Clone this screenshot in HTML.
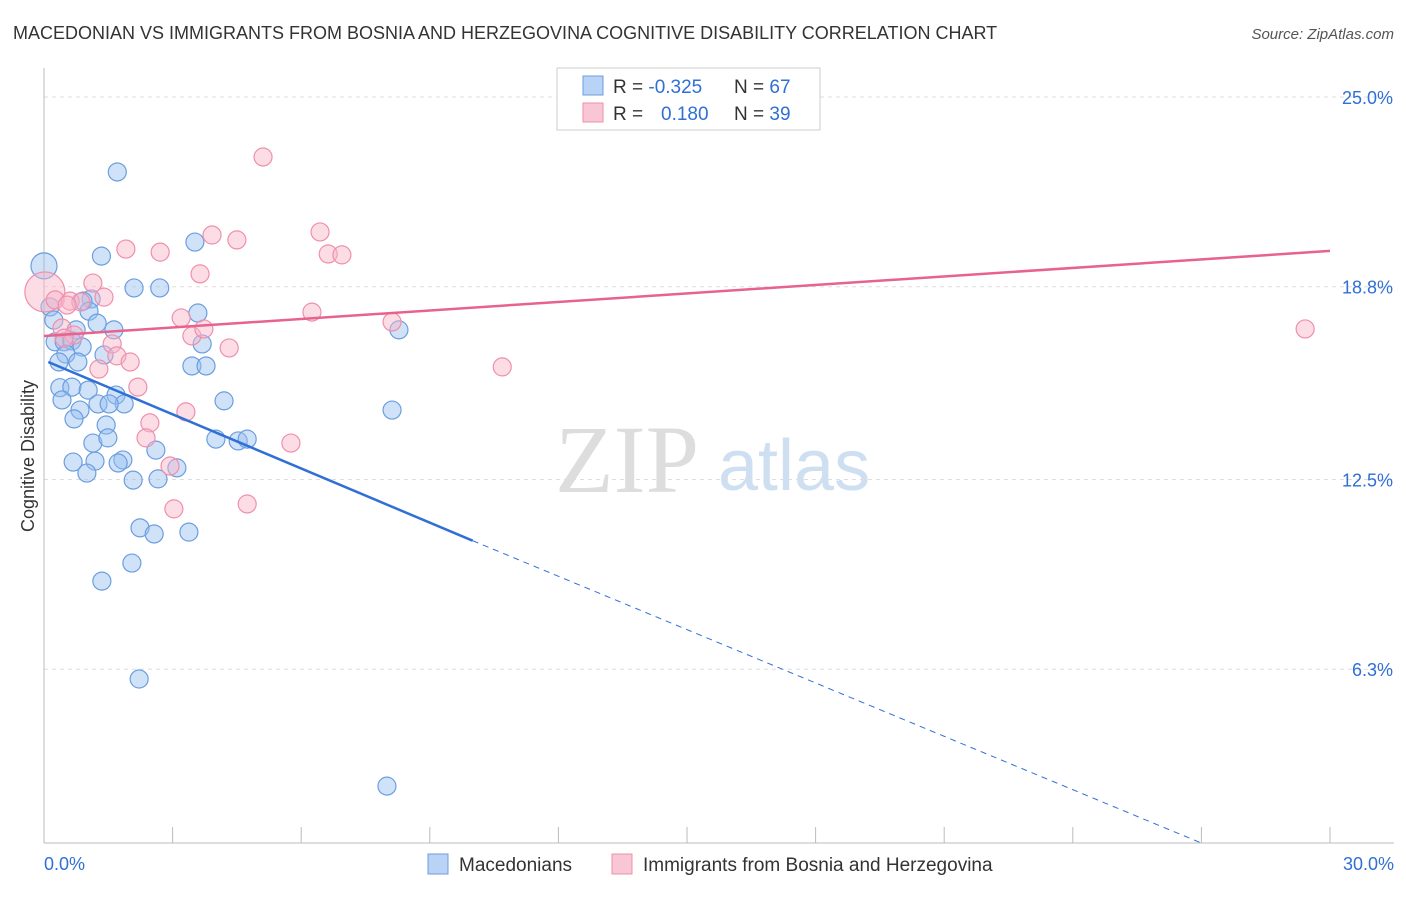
<!DOCTYPE html>
<html><head><meta charset="utf-8"><style>
body{margin:0;background:#fff;font-family:"Liberation Sans",sans-serif}
</style></head><body>
<svg id="c" width="1406" height="892" xmlns="http://www.w3.org/2000/svg">
<text x="13" y="39" font-size="18" fill="#333">MACEDONIAN VS IMMIGRANTS FROM BOSNIA AND HERZEGOVINA COGNITIVE DISABILITY CORRELATION CHART</text>
<text x="1394" y="39" font-size="15" fill="#555" font-style="italic" text-anchor="end">Source: ZipAtlas.com</text>
<text x="34" y="456" font-size="18" fill="#333" text-anchor="middle" transform="rotate(-90 34 456)">Cognitive Disability</text>
<text x="555" y="492" font-size="96" fill="#ddd" font-family="Liberation Serif,serif">ZIP</text>
<text x="718" y="490" font-size="72" fill="#cfdff2">atlas</text>
<g id="grid"></g><g id="axes"></g><g id="pts"></g><g id="lines"></g>
<g>
<rect x="557" y="68" width="263" height="62" fill="#fff" stroke="#ccc"/>
<rect x="583" y="76" width="20" height="19" fill="#b8d3f5" stroke="#6b9ee0"/>
<rect x="583" y="103" width="20" height="19" fill="#f9c6d5" stroke="#ef8fab"/>
<text x="613" y="93" font-size="19" fill="#333">R = <tspan fill="#2f6fd6">-0.325</tspan></text>
<text x="734" y="93" font-size="19" fill="#333">N = <tspan fill="#2f6fd6">67</tspan></text>
<text x="613" y="120" font-size="19" fill="#333">R = <tspan fill="#2f6fd6" x="661">0.180</tspan></text>
<text x="734" y="120" font-size="19" fill="#333">N = <tspan fill="#2f6fd6">39</tspan></text>
</g>
<g>
<rect x="428" y="854" width="20" height="20" fill="#b8d3f5" stroke="#6b9ee0"/>
<text x="459" y="871" font-size="19" fill="#333">Macedonians</text>
<rect x="612" y="854" width="20" height="20" fill="#f9c6d5" stroke="#ef8fab"/>
<text x="643" y="871" font-size="19" fill="#333">Immigrants from Bosnia and Herzegovina</text>
</g>
</svg>
<script>
const yTicks=[25.0,18.8,12.5,6.3];
const yTickLabels=["25.0%","18.8%","12.5%","6.3%"];
const blueX=[1.71,1.34,3.52,2.1,2.7,1.1,0.91,0.14,1.05,3.59,0.23,1.24,1.63,8.28,0.75,0.26,0.47,0.65,0.89,0.51,3.69,1.4,0.35,0.79,3.45,3.78,0.37,0.65,1.03,1.68,0.42,1.26,1.87,1.52,4.2,8.12,0.84,0.7,1.45,1.14,1.49,4.01,4.53,4.74,2.61,0.68,1.19,1.84,1.73,3.1,1.0,2.08,2.66,2.24,2.57,3.38,2.05,1.35,2.22,8.0,0.0];
const blueY=[22.55,19.8,20.26,18.76,18.76,18.4,18.33,18.14,18.0,17.94,17.71,17.61,17.39,17.39,17.39,17.0,17.0,17.03,16.83,16.6,16.93,16.57,16.34,16.34,16.21,16.21,15.5,15.52,15.42,15.26,15.1,14.97,14.97,14.97,15.07,14.77,14.77,14.48,14.28,13.69,13.86,13.82,13.76,13.82,13.46,13.07,13.1,13.14,13.04,12.88,12.71,12.48,12.52,10.92,10.72,10.78,9.77,9.18,5.98,2.48,19.48];
const pinkX=[5.11,3.92,4.5,1.91,2.71,6.44,6.63,6.95,3.64,1.14,0.02,0.26,0.61,0.86,1.4,0.54,6.25,3.2,8.12,0.42,0.7,3.45,3.73,1.59,4.32,1.7,2.01,1.28,10.69,2.19,3.31,2.47,2.38,5.76,2.94,4.74,3.03,29.42,0.47];
const pinkY=[23.04,20.49,20.33,20.03,19.93,20.59,19.87,19.84,19.22,18.92,18.63,18.37,18.33,18.3,18.46,18.2,17.97,17.78,17.65,17.45,17.22,17.19,17.42,16.93,16.8,16.54,16.34,16.11,16.18,15.52,14.71,14.35,13.86,13.69,12.94,11.7,11.54,17.42,17.12];
const blueSizes={60:13};const pinkSizes={10:20};
const X0=44,X1=1330,Y0=862,PX=30.6;
const sx=v=>X0+v/30*(X1-X0), sy=v=>Y0-v*PX;
const NS="http://www.w3.org/2000/svg";
function mk(t,a,p){const e=document.createElementNS(NS,t);for(const k in a)e.setAttribute(k,a[k]);p.appendChild(e);return e;}
const grid=document.getElementById('grid'),axes=document.getElementById('axes'),pts=document.getElementById('pts'),lines=document.getElementById('lines');
yTicks.forEach((t,i)=>{
 const l=mk('line',{x1:44,x2:1394,y1:sy(t),y2:sy(t),stroke:'#ddd','stroke-dasharray':'4,4'},grid);
 
 
 const tx=mk('text',{x:1393,y:sy(t)+7,'font-size':18,fill:'#2f6fd6','text-anchor':'end'},axes);
 tx.textContent=yTickLabels[i];
 
 
});
const ax=mk('line',{x1:44,x2:1394,y1:843,y2:843,stroke:'#bbb'},axes);


const ay=mk('line',{x1:44,x2:44,y1:68,y2:843,stroke:'#bbb'},axes);


for(let i=1;i<=10;i++){const x=sx(i*3);const t=mk('line',{x1:x,x2:x,y1:827,y2:843,stroke:'#bbb'},axes);
 
 }
const xl=mk('text',{x:44,y:870,'font-size':18,fill:'#2f6fd6'},axes);xl.textContent='0.0%';


const xr=mk('text',{x:1394,y:870,'font-size':18,fill:'#2f6fd6','text-anchor':'end'},axes);xr.textContent='30.0%';


blueX.forEach((v,i)=>{const c=mk('circle',{cx:sx(v),cy:sy(blueY[i]),r:blueSizes[i]||9,fill:'rgba(150,190,240,0.45)',stroke:'#6b9ee0','stroke-width':1.2},pts);
 
 });
pinkX.forEach((v,i)=>{const c=mk('circle',{cx:sx(v),cy:sy(pinkY[i]),r:pinkSizes[i]||9,fill:'rgba(248,180,200,0.45)',stroke:'#ef8fab','stroke-width':1.2},pts);
 
 });
const pl=mk('line',{x1:sx(0),y1:sy(17.19),x2:sx(30),y2:sy(19.97),stroke:'#e8628f','stroke-width':2.5},lines);


const bl=mk('line',{x1:sx(0.1),y1:sy(16.34),x2:sx(10),y2:sy(10.5),stroke:'#2f6fd6','stroke-width':2.5},lines);


const bd=mk('line',{x1:sx(10),y1:sy(10.5),x2:sx(27),y2:sy(0.62),stroke:'#2f6fd6','stroke-width':1,'stroke-dasharray':'6,5'},lines);


</script>
</body></html>
